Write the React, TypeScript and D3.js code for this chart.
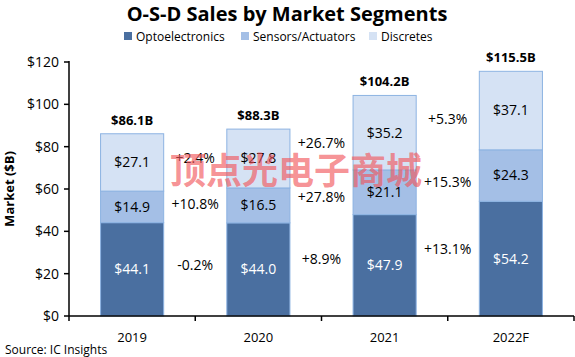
import React from "react";
import * as d3 from "d3";

const years = ["2019", "2020", "2021", "2022F"];
const opto = [44.1, 44.0, 47.9, 54.2];
const sensors = [14.9, 16.5, 21.1, 24.3];
const discretes = [27.1, 27.8, 35.2, 37.1];
const totals = ["$86.1B", "$88.3B", "$104.2B", "$115.5B"];
const growthOpto = ["-0.2%", "+8.9%", "+13.1%"];
const growthSensors = ["+10.8%", "+27.8%", "+15.3%"];
const growthDiscretes = ["+2.4%", "+26.7%", "+5.3%"];
const yTicks = [0, 20, 40, 60, 80, 100, 120];
const seriesNames = ["Optoelectronics", "Sensors/Actuators", "Discretes"];

const colors = ["#4A6FA0", "#A4BFE6", "#D5E2F4"];
const FONT = "'Open Sans', 'Noto Sans', sans-serif";

export default function App() {
  const W = 575, H = 357;
  const left = 69, right = 574, top = 62, bottom = 316;
  const x = d3.scaleBand<string>().domain(years).range([left, right]).paddingInner(0.5).paddingOuter(0.25);
  const y = d3.scaleLinear().domain([0, 120]).range([bottom, top]);
  const step = (right - left) / years.length;

  const rows = years.map((yr, i) => ({ year: yr, opto: opto[i], sensors: sensors[i], discretes: discretes[i] }));
  const stack = d3.stack<any>().keys(["opto", "sensors", "discretes"])(rows);

  const mid = (k: number, i: number) => (stack[k][i][0] + stack[k][i][1]) / 2;
  const growthSets = [growthOpto, growthSensors, growthDiscretes];

  return (
    <svg width={W} height={H} style={{ position: "absolute", left: 0, top: 0, background: "#fff" }}>
      <text x={287} y={21} textAnchor="middle" fontFamily={FONT} fontWeight="bold" fontSize={20} fill="#000">
        O-S-D Sales by Market Segments
      </text>
      {/* legend */}
      {(() => {
        const items = [124, 241, 369];
        return seriesNames.map((n, i) => (
          <g key={n}>
            <rect x={items[i]} y={32} width={8} height={8} fill={colors[i]} />
            <text x={items[i] + 12} y={41} fontFamily={FONT} fontSize={12} fill="#000">{n}</text>
          </g>
        ));
      })()}
      {/* y axis */}
      <line x1={left} x2={left} y1={top - 1} y2={bottom} stroke="#000" strokeWidth={1.5} />
      {yTicks.map((t) => (
        <g key={t}>
          <line x1={left - 5} x2={left} y1={y(t)} y2={y(t)} stroke="#000" strokeWidth={1.5} />
          <text x={left - 10} y={y(t)} dy="0.35em" textAnchor="end" fontFamily={FONT} fontSize={14} fill="#000">
            {"$" + t}
          </text>
        </g>
      ))}
      <text transform={`translate(14,${(top + bottom) / 2}) rotate(-90)`} textAnchor="middle" fontFamily={FONT} fontWeight="bold" fontSize={13} fill="#000">
        Market ($B)
      </text>
      {/* bars */}
      {stack.map((s, k) =>
        s.map((d, i) => (
          <g key={k + "-" + i}>
            <rect
              x={x(years[i])!}
              y={y(d[1])}
              width={x.bandwidth()}
              height={y(d[0]) - y(d[1])}
              fill={colors[k]}
              stroke="#8DB3E2"
              strokeWidth={1}
            />
            <text
              x={x(years[i])! + x.bandwidth() / 2}
              y={y(mid(k, i))}
              dy="0.35em"
              textAnchor="middle"
              fontFamily={FONT}
              fontSize={14}
              fill={k === 0 ? "#fff" : "#000"}
            >
              {"$" + (d[1] - d[0]).toFixed(1)}
            </text>
          </g>
        ))
      )}
      {/* totals */}
      {years.map((yr, i) => (
        <text key={yr} x={x(yr)! + x.bandwidth() / 2} y={y(stack[2][i][1]) - 9} textAnchor="middle" fontFamily={FONT} fontWeight="bold" fontSize={13} fill="#000">
          {totals[i]}
        </text>
      ))}
      {/* growth labels */}
      {growthSets.map((arr, k) =>
        arr.map((g, i) => (
          <text
            key={k + "g" + i}
            x={left + step * (i + 1)}
            y={y((mid(k, i) + mid(k, i + 1)) / 2 + (k === 0 ? 2 + 2 * i : 1))}
            dy="0.35em"
            textAnchor="middle"
            fontFamily={FONT}
            fontSize={14}
            fill="#000"
          >
            {g}
          </text>
        ))
      )}
      {/* x axis */}
      <line x1={left} x2={right} y1={bottom} y2={bottom} stroke="#000" strokeWidth={1.5} />
      {d3.range(years.length + 1).map((j) => (
        <line key={j} x1={left + step * j} x2={left + step * j} y1={bottom} y2={bottom + 5} stroke="#000" strokeWidth={1.5} />
      ))}
      {years.map((yr) => (
        <text key={yr} x={x(yr)! + x.bandwidth() / 2} y={337} dy="0.35em" textAnchor="middle" fontFamily={FONT} fontSize={13} fill="#000">
          {yr}
        </text>
      ))}
      <text x={5} y={354} fontFamily={FONT} fontSize={12} fill="#000">Source: IC Insights</text>
      {/* watermark */}
      <text x={296} y={184} textAnchor="middle" fontFamily="'Noto Sans CJK SC', sans-serif" fontWeight="bold" fontSize={36} fill="rgba(242,85,90,0.65)">
        顶点光电子商城
      </text>
    </svg>
  );
}
